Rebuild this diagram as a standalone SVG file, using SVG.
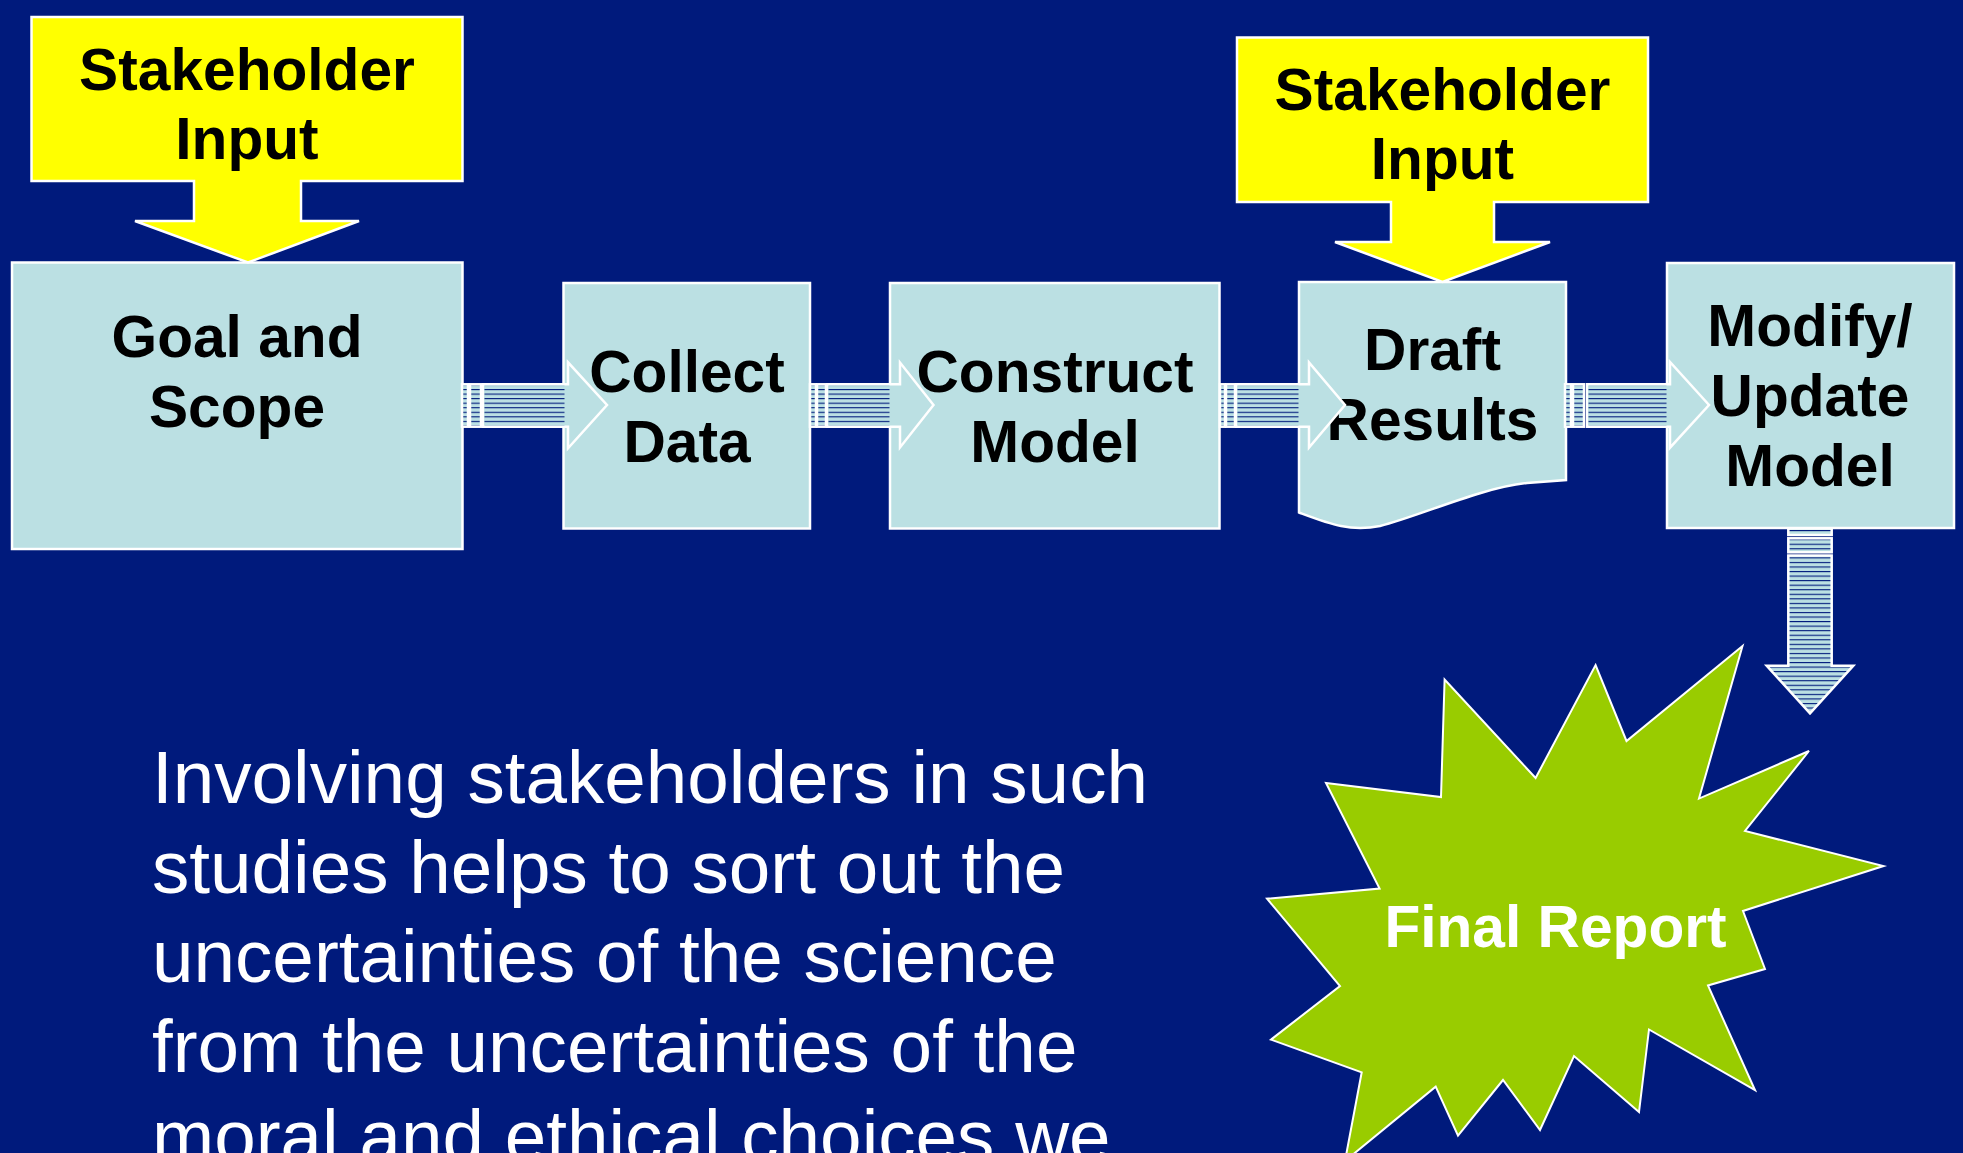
<svg xmlns="http://www.w3.org/2000/svg" width="1963" height="1153" viewBox="0 0 1963 1153">
<defs>
<pattern id="hl" patternUnits="userSpaceOnUse" x="0" y="2.25" width="10" height="4.55">
<rect width="10" height="4.55" fill="#BBE0E3"/>
<rect width="10" height="1.1" fill="#001A7C"/>
</pattern>
<style>
.box{fill:#BBE0E3;stroke:#FFFFFF;stroke-width:2.5}
.call{fill:#FFFF00;stroke:#FFFFFF;stroke-width:2.5;stroke-linejoin:miter}
.lbl{font-family:"Liberation Sans",Arial,sans-serif;font-weight:bold;font-size:58.67px;fill:#000000;text-anchor:middle}
.wl{font-family:"Liberation Sans",Arial,sans-serif;font-weight:bold;font-size:58.67px;fill:#FFFFFF;text-anchor:middle}
.body{font-family:"Liberation Sans",Arial,sans-serif;font-size:74.67px;fill:#FFFFFF}
.ar{fill:#BBE0E3;stroke:#FFFFFF;stroke-width:2.5}
.st{fill:url(#hl);stroke:#FFFFFF;stroke-width:2.5}
.pat{fill:url(#hl)}
.dn{fill:url(#hl);stroke:#FFFFFF;stroke-width:2.5}
</style>
</defs>
<rect width="1963" height="1153" fill="#001A7C"/>

<g id="goal-and-scope">
<rect class="box" x="12" y="262.5" width="450.5" height="286.5"/>
<text class="lbl" x="237" y="357">Goal and</text>
<text class="lbl" x="237" y="427">Scope</text>
</g>

<g id="collect-data">
<rect class="box" x="563.5" y="283" width="246.5" height="245.5"/>
<text class="lbl" x="687" y="392">Collect</text>
<text class="lbl" x="687" y="462">Data</text>
</g>

<g id="construct-model">
<rect class="box" x="890" y="283" width="329.5" height="245.5"/>
<text class="lbl" x="1055" y="392">Construct</text>
<text class="lbl" x="1055" y="462">Model</text>
</g>

<g id="draft-results">
<path class="box" d="M1299,282 H1566 V480 L1527,483 C1480,488 1420,516 1380,526 C1350,532 1330,524 1299,512.5 Z"/>
<text class="lbl" x="1432.5" y="370">Draft</text>
<text class="lbl" x="1432.5" y="440">Results</text>
</g>

<g id="modify-update-model">
<rect class="box" x="1667" y="263" width="287" height="265"/>
<text class="lbl" x="1810" y="346">Modify/</text>
<text class="lbl" x="1810" y="416">Update</text>
<text class="lbl" x="1810" y="486">Model</text>
</g>

<g id="stakeholder-input-1">
<polygon class="call" points="31.5,17 462.5,17 462.5,181 301,181 301,221 359,221 248,262.5 135,221 194,221 194,181 31.5,181"/>
<text class="lbl" x="247" y="90">Stakeholder</text>
<text class="lbl" x="247" y="159">Input</text>
</g>

<g id="stakeholder-input-2">
<polygon class="call" points="1237,37.5 1648,37.5 1648,202 1494,202 1494,242 1550,242 1442.5,282 1335,242 1391,242 1391,202 1237,202"/>
<text class="lbl" x="1442.5" y="110">Stakeholder</text>
<text class="lbl" x="1442.5" y="179">Input</text>
</g>

<g id="final-report">
<polygon fill="#99CC00" stroke="#FFFFFF" stroke-width="2" points="1742.5,646 1699,798.6 1809,751 1745,831 1883.5,866 1743,911 1765,969 1708,985.5 1755,1090 1649,1029.5 1639,1112 1574,1056 1540,1130 1503,1080 1458,1135.7 1435.7,1086.7 1345,1161 1361.7,1072.3 1271,1039.6 1340,986 1267,898.7 1379.6,888.6 1326,783 1441,797 1444.6,679.5 1535.6,778 1595.6,665 1626.5,741"/>
<text class="wl" x="1555.5" y="947">Final Report</text>
</g>

<g id="connectors">
<g id="arrow-goal-collect">
<rect class="st" x="462" y="384.3" width="6" height="42.4"/>
<rect class="st" x="470" y="384.3" width="11" height="42.4"/>
<polygon class="ar" points="483,384.3 568,384.3 568,362.3 607,405 568,448.3 568,426.7 483,426.7"/>
<rect class="pat" x="484.5" y="385.8" width="80" height="39.4"/>
</g>
<g id="arrow-collect-construct">
<rect class="st" x="810" y="384.3" width="6" height="42.4"/>
<rect class="st" x="817" y="384.3" width="9" height="42.4"/>
<polygon class="ar" points="827,384.3 900,384.3 900,362.5 933.5,405 900,447.5 900,426.7 827,426.7"/>
<rect class="pat" x="828.5" y="385.8" width="61" height="39.4"/>
</g>
<g id="arrow-construct-draft">
<rect class="st" x="1220" y="384.3" width="5" height="42.4"/>
<rect class="st" x="1226" y="384.3" width="9" height="42.4"/>
<polygon class="ar" points="1236,384.3 1309,384.3 1309,362.5 1345,405 1309,447.5 1309,426.7 1236,426.7"/>
<rect class="pat" x="1237.5" y="385.8" width="61" height="39.4"/>
</g>
<g id="arrow-draft-modify">
<rect class="st" x="1565" y="384.3" width="6" height="42.4"/>
<rect class="st" x="1573" y="384.3" width="11" height="42.4"/>
<polygon class="ar" points="1587,384.3 1670,384.3 1670,362 1709,405 1670,447.7 1670,426.7 1587,426.7"/>
<rect class="pat" x="1588.5" y="385.8" width="78" height="39.4"/>
</g>
<g id="arrow-modify-report">
<rect class="dn" x="1788.3" y="528.5" width="43.4" height="6.5"/>
<rect class="dn" x="1788.3" y="538.3" width="43.4" height="14"/>
<polygon class="dn" points="1788.3,555.5 1831.7,555.5 1831.7,665.7 1853.3,665.7 1810,713.3 1766.7,665.7 1788.3,665.7"/>
</g>
</g>

<g id="caption">
<text class="body" x="152" y="802.7">Involving stakeholders in such</text>
<text class="body" x="152" y="892.5">studies helps to sort out the</text>
<text class="body" x="152" y="982">uncertainties of the science</text>
<text class="body" x="152" y="1071.5">from the uncertainties of the</text>
<text class="body" x="152" y="1161.5">moral and ethical choices we</text>
</g>
</svg>
